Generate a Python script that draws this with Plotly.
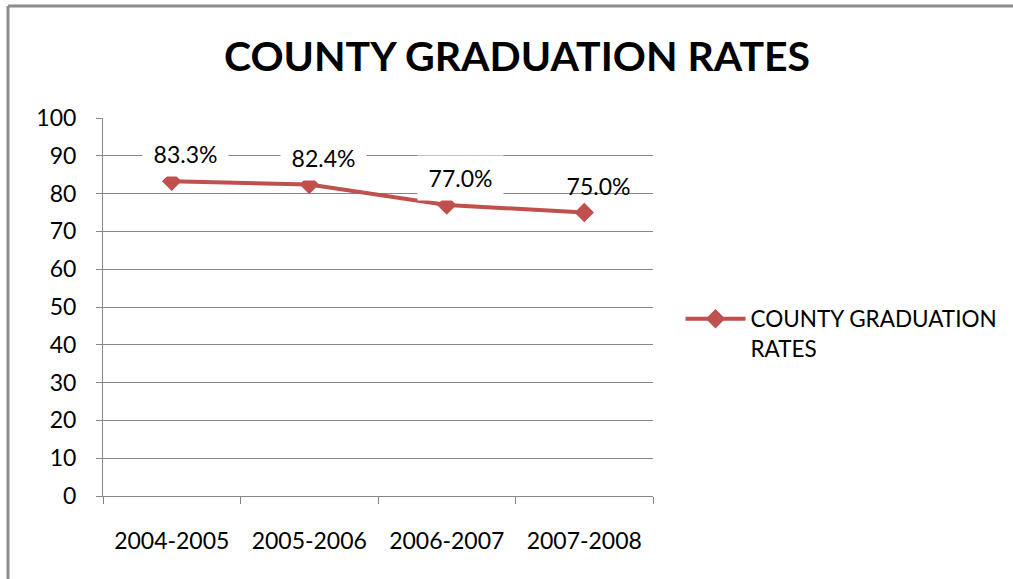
import plotly.graph_objects as go

# County graduation rates by school year
years = ["2004-2005", "2005-2006", "2006-2007", "2007-2008"]
rates = [83.3, 82.4, 77.0, 75.0]
label_bg = ["white", "white", "white", "rgba(0,0,0,0)"]
series_name = "COUNTY GRADUATION<br>RATES"
title_text = "COUNTY GRADUATION RATES"

RED = "#C0504D"
GRID = "#868686"
FRAME = "#8c8c8c"
FONT = "Lato, 'Open Sans', sans-serif"
FS = 23

fig = go.Figure()
fig.add_trace(go.Scatter(
    x=years, y=rates, mode="lines+markers", name=series_name,
    line=dict(color=RED, width=4),
    marker=dict(symbol="diamond", size=15, color=RED),
))

# value labels above each point
for yr, v, bg in zip(years, rates, label_bg):
    fig.add_annotation(
        x=yr, y=v, text=f"{v:.1f}%", showarrow=False,
        xshift=14, yshift=27, bgcolor=bg, borderpad=0,
        width=85, height=44,
        font=dict(family=FONT, size=FS, color="black"),
    )

# outer frame (left and top edges)
fig.add_shape(type="line", xref="paper", yref="paper",
              x0=-0.1727, y0=-0.25, x1=-0.1727, y1=1.2963,
              line=dict(color=FRAME, width=3))
fig.add_shape(type="line", xref="paper", yref="paper",
              x0=-0.1727, y0=1.2963, x1=1.66, y1=1.2963,
              line=dict(color=FRAME, width=3))

fig.update_layout(
    width=1013, height=579,
    margin=dict(l=103, r=360, t=118, b=83, autoexpand=False),
    paper_bgcolor="white", plot_bgcolor="white",
    font=dict(family=FONT, size=FS, color="black"),
    title=dict(text=f"<b>{title_text}</b>", x=517 / 1013, xanchor="center",
               y=1 - 57 / 579, yanchor="middle",
               font=dict(family=FONT, size=41, color="black")),
    showlegend=True,
    legend=dict(x=1.05, xanchor="left", y=0.525, yanchor="top",
                valign="top", itemwidth=60, font=dict(family=FONT, size=22.5),
                bgcolor="rgba(0,0,0,0)"),
    xaxis=dict(
        type="category", range=[-0.5, 3.5], tickson="boundaries",
        showgrid=False, showline=True, linecolor=GRID, linewidth=1,
        ticks="outside", ticklen=7, tickcolor=GRID,
        ticklabelstandoff=24,
        tickfont=dict(family=FONT, size=FS),
    ),
    yaxis=dict(
        range=[0, 100], dtick=10, showgrid=True, gridcolor=GRID, gridwidth=1,
        showline=True, linecolor=GRID, linewidth=1, zeroline=False,
        ticks="outside", ticklen=6, tickcolor=GRID,
        ticklabelstandoff=15,
        tickfont=dict(family=FONT, size=FS),
    ),
)

fig.write_html("out.html")
